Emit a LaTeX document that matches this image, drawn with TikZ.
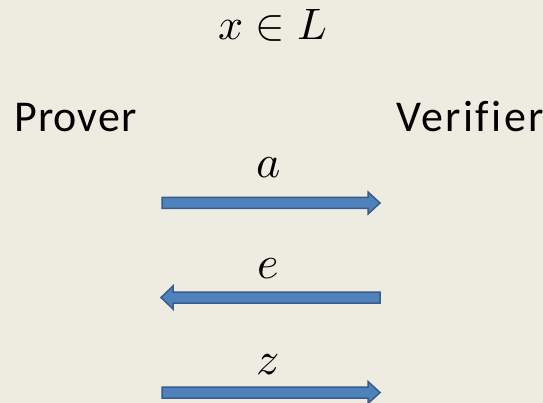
\documentclass[tikz,border=0pt]{standalone}
\usepackage{fontspec}
\usepackage{unicode-math}
\setmainfont{Carlito}[Ligatures=NoCommon]
\setmathfont{Latin Modern Math}
\usetikzlibrary{calc}
\definecolor{bg}{HTML}{EEECE1}
\definecolor{arrfill}{HTML}{4F81BD}
\definecolor{arrline}{HTML}{385D8A}
\newfontfamily\wideA{Carlito}[Ligatures=NoCommon, LetterSpace=2.5]
\newfontfamily\wideB{Carlito}[Ligatures=NoCommon, LetterSpace=5.5]
\tikzset{
  lbl/.style={inner sep=0pt, anchor=base, font=\fontsize{44}{50}\selectfont},
  mathlbl/.style={inner sep=0pt, anchor=base, font=\fontsize{44}{50}\selectfont},
  varlbl/.style={inner sep=0pt, anchor=base, font=\fontsize{46}{52}\selectfont},
  blockarr/.style={fill=arrfill, draw=arrline, line width=1.5pt, line join=miter}
}
\begin{document}
\begin{tikzpicture}[x=1pt,y=-1pt]
\fill[bg] (0,0) rectangle (543,403);
\useasboundingbox (0,0) rectangle (543,403);
\node[mathlbl] (stmt) at (273,40) {$x\in L$};
\node[lbl, anchor=base west] (prover) at (14,132) {\wideA Prover};
\node[lbl, anchor=base west] (verifier) at (396,132) {\wideB Verifier};
\node[varlbl] (la) at (269,178) {$a$};
\node[varlbl] (le) at (268,278) {$e$};
\node[varlbl] (lz) at (268,374) {$z$};
% arrow 1 (right)
\draw[blockarr] (162,197.5) -- (368,197.5) -- (368,192) -- (380,203) -- (368,214) -- (368,208.5) -- (162,208.5) -- cycle;
% arrow 2 (left)
\draw[blockarr] (380,292) -- (173,292) -- (173,286) -- (161,297.5) -- (173,309) -- (173,303) -- (380,303) -- cycle;
% arrow 3 (right)
\draw[blockarr] (162,387) -- (368,387) -- (368,381.5) -- (380,392.5) -- (368,403.5) -- (368,398) -- (162,398) -- cycle;
\end{tikzpicture}
\end{document}
